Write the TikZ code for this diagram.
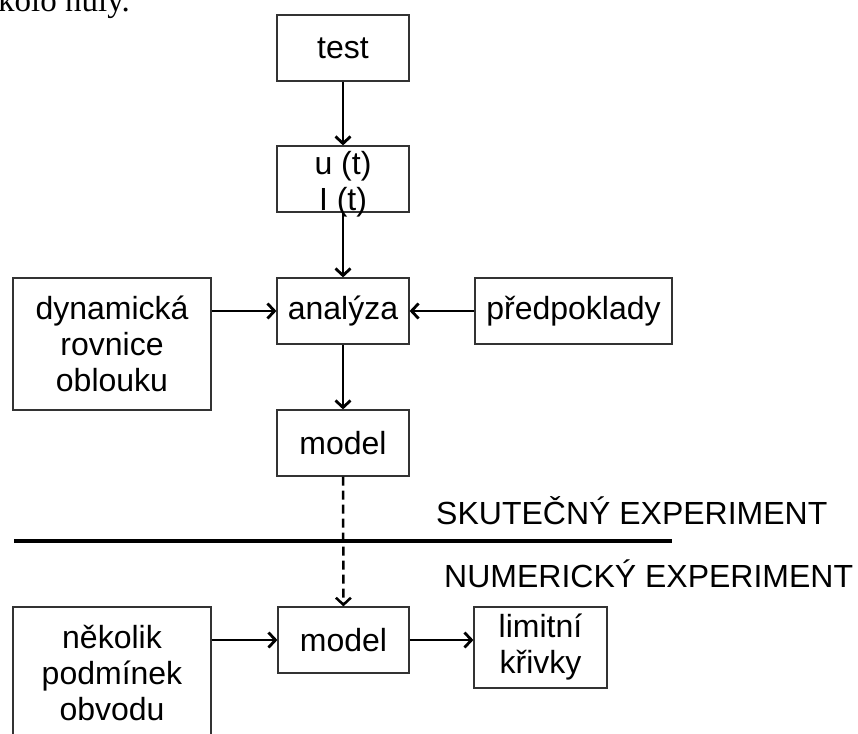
\documentclass[tikz,border=0pt]{standalone}
\usepackage{fontspec}
\setmainfont{Liberation Sans}
\newfontfamily\serifface{Liberation Serif}
\usetikzlibrary{arrows.meta}
\begin{document}
\begin{tikzpicture}[x=1pt,y=-1pt,
  box/.style={draw=black!80, line width=1.2pt, inner sep=0pt, align=center,
    font=\fontsize{32}{36}\selectfont},
  smallbox/.style={box, minimum width=132pt, minimum height=66pt},
  tallbox/.style={box, minimum width=198pt, minimum height=132pt},
  flow/.style={line width=2.8pt, -{Straight Barb[length=7pt,width=15pt]}},
  dashflow/.style={flow, line width=2.5pt, dash pattern=on 9pt off 5pt},
  caption/.style={anchor=base west, inner sep=0pt, font=\fontsize{32}{36}\selectfont},
]
\useasboundingbox (0,0) rectangle (858,733);
\clip (0,0) rectangle (858,733);

% running text above the diagram
\node[anchor=base west, inner sep=0pt, font=\serifface\fontsize{33}{36}\selectfont]
  (prev) at (-2,12) {kolo nuly.};

% real experiment
\node[smallbox] (test) at (343,48) {test};
\node[smallbox] (ui) at (343,179) {};
\node[inner sep=0pt, align=center, font=\fontsize{32}{36}\selectfont]
  (uitext) at (343,184) {u (t)\\I (t)};
\node[smallbox] (an) at (343,311) {analýza};
\node[tallbox] (dyn) at (112,344) {dynamická\\rovnice\\oblouku};
\node[box, minimum width=197pt, minimum height=66pt] (pred) at (573.5,311) {předpoklady};
\node[smallbox] (m1) at (343,443) {model};

% separator and headings
\coordinate (sepL) at (14,541);
\coordinate (sepR) at (672,541);
\draw[line width=4.5pt] (sepL) -- (sepR);
\node[caption] (real) at (436,524) {SKUTEČNÝ EXPERIMENT};
\node[caption] (num) at (444,587) {NUMERICKÝ EXPERIMENT};

% numerical experiment
\node[tallbox] (nek) at (112,673) {několik\\podmínek\\obvodu};
\node[box, minimum width=131pt, minimum height=66pt] (m2) at (343.5,640) {model};
\node[box, minimum width=133pt, minimum height=81pt] (lim) at (540.5,647.5) {limitní\\křivky};

% connectors
\draw[flow] (test) -- (ui);
\draw[flow] (ui) -- (an);
\draw[flow] (an -| dyn.east) -- (an.west);
\draw[flow] (pred) -- (an);
\draw[flow] (an) -- (m1);
\draw[dashflow] (m1) -- (m2);
\draw[flow] (m2 -| nek.east) -- (m2.west);
\draw[flow] (m2.east) -- (m2 -| lim.west);
\end{tikzpicture}
\end{document}
